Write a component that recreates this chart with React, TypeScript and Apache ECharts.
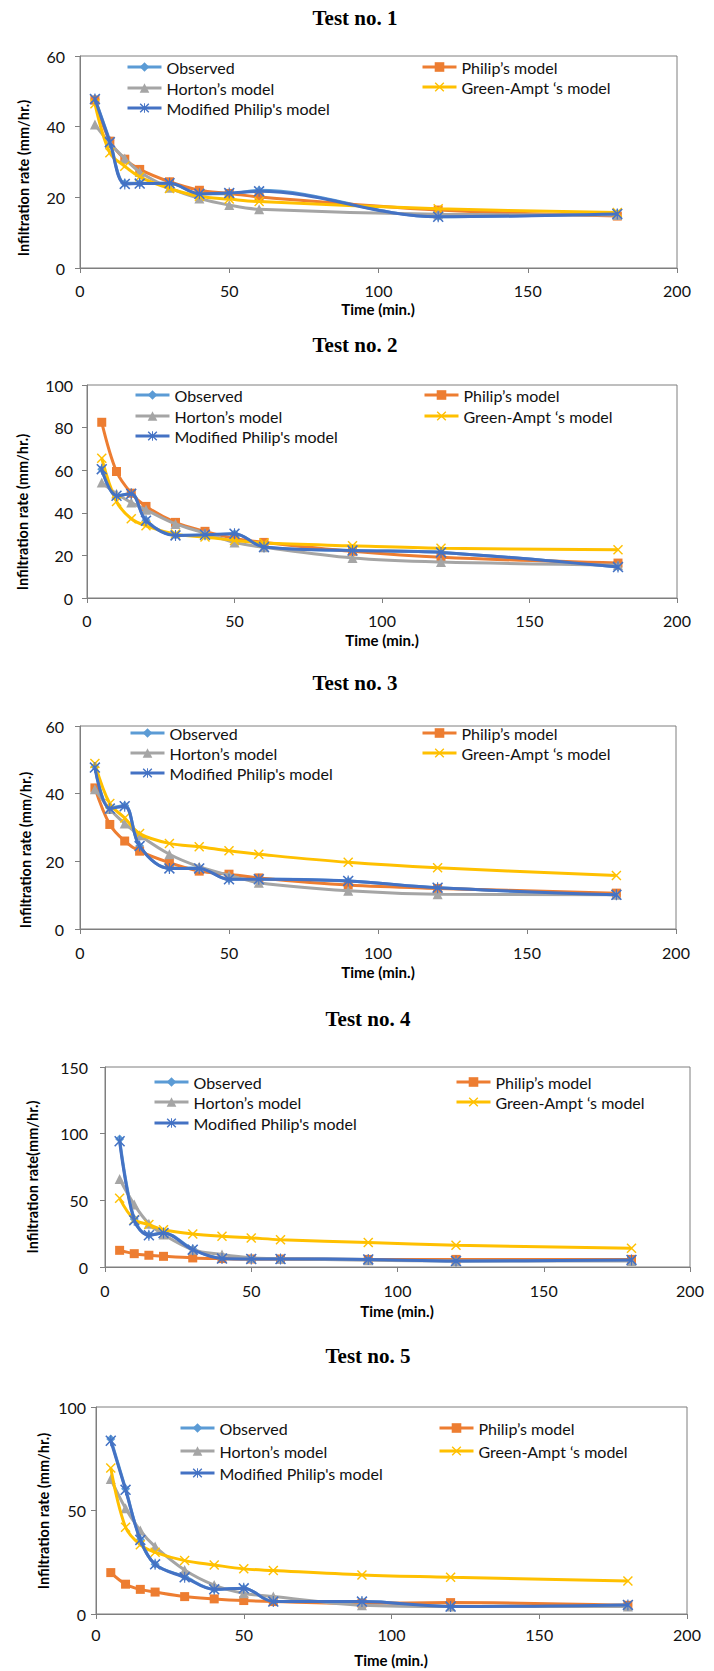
import React, { useEffect, useRef } from "react";
import * as echarts from "echarts";

// ---------- DATA ----------
const TIMES_1 = [5, 10, 15, 20, 30, 40, 50, 60, 120, 180];
const TIMES = [5, 10, 15, 20, 30, 40, 50, 60, 90, 120, 180];

const NAMES = ["Observed", "Philip’s model", "Horton’s model", "Green-Ampt ‘s model", "Modified Philip's model"];
const TITLES = ["Test no. 1", "Test no. 2", "Test no. 3", "Test no. 4", "Test no. 5"];
const Y_TITLES = [
  "Infiltration rate (mm/hr.)",
  "Infiltration rate (mm/hr.)",
  "Infiltration rate (mm/hr.)",
  "Infiltration rate(mm/hr.)",
  "Infiltration rate (mm/hr.)",
];
const X_TITLE = "Time (min.)";
const Y_MAX = [60, 100, 60, 150, 100];
const Y_STEP = [20, 20, 20, 50, 50];
const X_MAX = 200;
const X_STEP = 50;

// Test 1
const obs1 = [48.0, 36.0, 24.0, 24.0, 24.0, 21.0, 21.0, 22.0, 14.5, 15.5];
const phil1 = [47.5, 35.9, 30.8, 27.9, 24.4, 22.0, 21.1, 20.1, 16.4, 14.7];
const hort1 = [40.6, 35.3, 31.0, 27.2, 22.7, 19.7, 17.8, 16.6, 15.2, 15.0];
const ga1 = [46.5, 32.6, 28.8, 25.8, 22.5, 20.3, 19.5, 18.8, 16.8, 15.7];
const mod1 = [47.8, 35.6, 23.8, 23.9, 24.0, 21.0, 21.2, 21.7, 14.5, 15.3];

// Test 2
const obs2 = [60.5, 48.0, 49.0, 36.5, 29.5, 29.5, 30.2, 24.0, 22.3, 21.4, 14.6];
const phil2 = [82.5, 59.4, 49.2, 43.0, 35.5, 31.3, 28.0, 26.1, 21.9, 19.1, 16.4];
const hort2 = [54.2, 49.0, 44.8, 41.4, 34.8, 30.5, 26.1, 23.8, 18.8, 16.9, 15.5];
const ga2 = [65.6, 45.3, 37.2, 33.9, 30.0, 28.6, 27.0, 25.8, 24.5, 23.4, 22.7];
const mod2 = [60.5, 48.0, 48.9, 36.3, 29.4, 29.7, 30.2, 23.9, 22.3, 21.4, 14.5];

// Test 3
const obs3 = [48.0, 35.8, 36.5, 24.5, 18.0, 18.0, 14.7, 14.8, 14.2, 12.2, 10.1];
const phil3 = [41.7, 30.9, 26.0, 23.0, 19.6, 17.1, 16.2, 15.1, 13.0, 12.0, 10.6];
const hort3 = [41.3, 35.5, 31.2, 27.7, 22.1, 18.4, 15.9, 13.7, 11.3, 10.3, 10.1];
const ga3 = [48.9, 37.1, 32.8, 28.2, 25.3, 24.3, 23.1, 22.1, 19.7, 18.1, 15.8];
const mod3 = [47.7, 35.6, 36.3, 24.5, 17.9, 17.9, 14.7, 14.7, 14.2, 12.2, 10.1];

// Test 4
const obs4 = [96.0, 36.0, 24.0, 25.5, 13.5, 6.3, 6.0, 6.0, 5.7, 4.5, 5.3];
const phil4 = [12.5, 10.0, 8.8, 8.0, 6.8, 6.3, 6.0, 6.0, 5.7, 5.7, 5.7];
const hort4 = [66.0, 46.8, 32.5, 24.3, 13.0, 9.3, 6.8, 6.2, 5.0, 4.5, 4.5];
const ga4 = [51.5, 35.5, 31.8, 28.0, 24.8, 23.0, 21.8, 20.5, 18.3, 16.3, 14.0];
const mod4 = [94.3, 35.0, 23.8, 25.5, 13.0, 6.3, 6.0, 6.0, 5.7, 4.5, 5.3];

// Test 5
const obs5 = [84.5, 60.5, 36.0, 24.0, 18.0, 12.0, 12.5, 6.0, 6.0, 3.6, 4.4];
const phil5 = [20.0, 14.4, 11.9, 10.6, 8.4, 7.3, 6.5, 6.0, 5.2, 5.5, 4.2];
const hort5 = [65.2, 51.1, 40.3, 32.6, 21.3, 14.0, 10.0, 8.4, 4.2, 3.6, 3.6];
const ga5 = [70.5, 41.9, 33.4, 29.8, 25.8, 23.7, 21.8, 21.0, 18.9, 17.8, 16.0];
const mod5 = [83.7, 60.0, 35.8, 24.0, 17.7, 11.9, 12.4, 6.0, 6.0, 3.6, 4.4];

const TEST_TIMES = [TIMES_1, TIMES, TIMES, TIMES, TIMES];
const TEST_VALUES = [
  [obs1, phil1, hort1, ga1, mod1],
  [obs2, phil2, hort2, ga2, mod2],
  [obs3, phil3, hort3, ga3, mod3],
  [obs4, phil4, hort4, ga4, mod4],
  [obs5, phil5, hort5, ga5, mod5],
];

// ---------- STYLE / LAYOUT ----------
const COLORS = ["#5B9BD5", "#ED7D31", "#A5A5A5", "#FFC000", "#4472C4"];
const X_SYM =
  "path://M0,2 L2,0 L10,8 L18,0 L20,2 L12,10 L20,18 L18,20 L10,12 L2,20 L0,18 L8,10 Z";
const STAR_SYM =
  "path://M0,2 L2,0 L10,8 L18,0 L20,2 L12,10 L20,18 L18,20 L10,12 L2,20 L0,18 L8,10 Z M9,0 L11,0 L11,20 L9,20 Z";
const SYMBOLS = ["diamond", "rect", "triangle", X_SYM, STAR_SYM];
const SYMBOL_SIZES = [9, 9, 10, 10, 11];

const FONT = "Lato, 'Noto Sans', sans-serif";
const AXIS_COLOR = "#7f7f7f";

const LAYOUT = [
  { grid: { left: 80, top: 56, width: 597, height: 212 }, title: [355, 18], xTitle: [378, 309], yTitle: [23, 178],
    legL: { x: 126, rows: [67, 88, 108] }, legR: { x: 421, rows: [67, 87] }, yMargin: 15, xMargin: 14 },
  { grid: { left: 87, top: 385, width: 590, height: 213 }, title: [355, 345], xTitle: [382, 640], yTitle: [22, 512],
    legL: { x: 134, rows: [395, 416, 436] }, legR: { x: 423, rows: [395, 416] }, yMargin: 14, xMargin: 14 },
  { grid: { left: 80, top: 726, width: 596, height: 203 }, title: [355, 683], xTitle: [378, 972], yTitle: [25, 850],
    legL: { x: 129, rows: [733, 753, 773] }, legR: { x: 421, rows: [733, 753] }, yMargin: 16, xMargin: 15 },
  { grid: { left: 105, top: 1067, width: 585, height: 200 }, title: [368, 1019], xTitle: [397, 1311], yTitle: [32, 1177],
    legL: { x: 153, rows: [1082, 1102, 1123] }, legR: { x: 455, rows: [1082, 1102] }, yMargin: 17, xMargin: 15 },
  { grid: { left: 96, top: 1407, width: 591, height: 207 }, title: [368, 1356], xTitle: [391, 1660], yTitle: [43, 1511],
    legL: { x: 179, rows: [1428, 1451, 1473] }, legR: { x: 438, rows: [1428, 1451] }, yMargin: 10, xMargin: 12 },
];

function buildOption() {
  const grid: any[] = [];
  const xAxis: any[] = [];
  const yAxis: any[] = [];
  const series: any[] = [];
  const legend: any[] = [];
  const graphic: any[] = [];

  LAYOUT.forEach((L, i) => {
    grid.push({ ...L.grid, show: true, borderColor: AXIS_COLOR, borderWidth: 1, backgroundColor: "transparent" });
    xAxis.push({
      type: "value", gridIndex: i, min: 0, max: X_MAX, interval: X_STEP,
      axisLine: { show: true, onZero: false, lineStyle: { color: AXIS_COLOR, width: 1 } },
      axisTick: { show: true, length: 5, lineStyle: { color: AXIS_COLOR } },
      splitLine: { show: false },
      axisLabel: { margin: L.xMargin, color: "#111", fontSize: 16, fontFamily: FONT },
    });
    yAxis.push({
      type: "value", gridIndex: i, min: 0, max: Y_MAX[i], interval: Y_STEP[i],
      axisLine: { show: true, onZero: false, lineStyle: { color: AXIS_COLOR, width: 1 } },
      axisTick: { show: true, length: 5, lineStyle: { color: AXIS_COLOR } },
      splitLine: { show: false },
      axisLabel: { margin: L.yMargin, color: "#111", fontSize: 16, fontFamily: FONT },
    });

    NAMES.forEach((name, k) => {
      series.push({
        type: "line", name, xAxisIndex: i, yAxisIndex: i,
        data: TEST_TIMES[i].map((t, j) => [t, TEST_VALUES[i][k][j]]),
        smooth: 0.35,
        symbol: SYMBOLS[k], symbolSize: SYMBOL_SIZES[k], showAllSymbol: true,
        lineStyle: { color: COLORS[k], width: 3 },
        itemStyle: { color: COLORS[k] },
        z: 2 + k,
      });
    });

    const legItem = (name: string, x: number, yc: number) => ({
      left: x, top: yc - 10, padding: 0, itemWidth: 34, itemHeight: 12, itemGap: 0,
      orient: "vertical", data: [name], selectedMode: false,
      lineStyle: { width: 3 },
      textStyle: { fontSize: 16, fontFamily: FONT, color: "#111", lineHeight: 20 },
    });
    legend.push(legItem(NAMES[0], L.legL.x, L.legL.rows[0]));
    legend.push(legItem(NAMES[2], L.legL.x, L.legL.rows[1]));
    legend.push(legItem(NAMES[4], L.legL.x, L.legL.rows[2]));
    legend.push(legItem(NAMES[1], L.legR.x, L.legR.rows[0]));
    legend.push(legItem(NAMES[3], L.legR.x, L.legR.rows[1]));

    graphic.push({
      type: "text", x: L.title[0], y: L.title[1],
      style: { text: TITLES[i], fontSize: 21, fontWeight: "bold", fontFamily: "'Liberation Serif', serif",
        fill: "#000", align: "center", verticalAlign: "middle" },
    });
    graphic.push({
      type: "text", x: L.xTitle[0], y: L.xTitle[1],
      style: { text: X_TITLE, fontSize: 15, fontWeight: "bold", fontFamily: FONT,
        fill: "#000", align: "center", verticalAlign: "middle" },
    });
    graphic.push({
      type: "text", x: L.yTitle[0], y: L.yTitle[1], rotation: Math.PI / 2,
      style: { text: Y_TITLES[i], fontSize: 14.5, fontWeight: "bold", fontFamily: FONT,
        fill: "#000", align: "center", verticalAlign: "middle" },
    });
  });

  return {
    animation: false,
    backgroundColor: "#ffffff",
    grid, xAxis, yAxis, series, legend, graphic,
  };
}

export default function App() {
  const ref = useRef<HTMLDivElement>(null);
  useEffect(() => {
    if (!ref.current) return;
    const chart = echarts.init(ref.current, undefined, { renderer: "svg" });
    chart.setOption(buildOption() as any);
    return () => chart.dispose();
  }, []);
  return (
    <div
      ref={ref}
      style={{ position: "absolute", left: 0, top: 0, width: 714, height: 1671, background: "#fff" }}
    />
  );
}
